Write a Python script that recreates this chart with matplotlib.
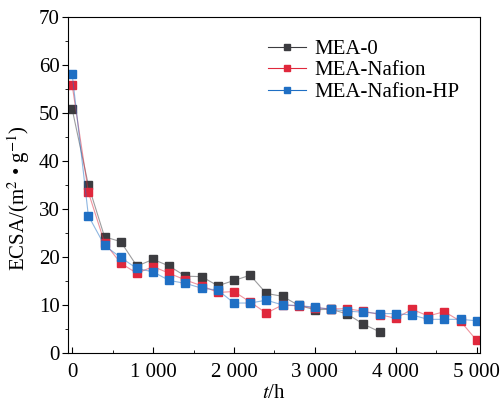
import numpy as np
import matplotlib
matplotlib.use('Agg')
import matplotlib.pyplot as plt
from matplotlib.ticker import MultipleLocator, FuncFormatter

plt.rcParams['font.family'] = ['Liberation Serif', 'DejaVu Serif']
plt.rcParams['mathtext.fontset'] = 'stix'

# time (h)
t_mea0 = [0, 200, 400, 600, 800, 1000, 1200, 1400, 1600, 1800, 2000, 2200,
          2400, 2600, 2800, 3000, 3200, 3400, 3600, 3800]
ecsa_mea0 = [50.8, 35.0, 24.2, 23.2, 18.1, 19.5, 18.1, 16.0, 15.9, 14.0, 15.1, 16.2,
             12.4, 11.8, 9.9, 9.0, 9.1, 8.1, 6.0, 4.4]

t_full = [0, 200, 400, 600, 800, 1000, 1200, 1400, 1600, 1800, 2000, 2200, 2400,
          2600, 2800, 3000, 3200, 3400, 3600, 3800, 4000, 4200, 4400, 4600, 4800, 5000]
ecsa_nafion = [55.8, 33.5, 23.0, 18.7, 16.6, 18.0, 16.6, 15.2, 14.0, 12.6, 12.8, 10.6, 8.3,
               10.0, 9.8, 9.4, 9.2, 9.2, 8.7, 8.0, 7.2, 9.1, 7.7, 8.6, 6.6, 2.6]
ecsa_hp = [58.1, 28.6, 22.4, 19.9, 17.6, 16.9, 15.1, 14.5, 13.5, 13.1, 10.4, 10.4, 11.0,
           10.0, 9.9, 9.5, 9.1, 8.7, 8.5, 8.2, 8.2, 7.9, 7.0, 7.0, 7.0, 6.7]

fig = plt.figure(figsize=(5.01, 4.08), dpi=100)
ax = fig.add_axes([0.136, 0.135, 0.822, 0.823])

series = [
    (t_mea0, ecsa_mea0, '#3c3c40', 'MEA-0'),
    (t_full, ecsa_nafion, '#e0283c', 'MEA-Nafion'),
    (t_full, ecsa_hp, '#1f6fc4', 'MEA-Nafion-HP'),
]
for x, y, c, lab in series:
    ax.plot(x, y, color=c, lw=0.8, alpha=0.5)
    ax.plot(x, y, ls='none', marker='s', ms=6, color=c)
    ax.plot([], [], color=c, lw=0.8, marker='s', ms=5, label=lab)

ax.set_xlim(-50, 5040)
ax.set_ylim(0, 70)
ax.xaxis.set_major_locator(MultipleLocator(1000))
ax.xaxis.set_minor_locator(MultipleLocator(500))
ax.yaxis.set_major_locator(MultipleLocator(10))
ax.yaxis.set_minor_locator(MultipleLocator(5))
ax.xaxis.set_major_formatter(FuncFormatter(lambda v, p: f'{int(v):,}'.replace(',', ' ')))
ax.tick_params(axis='x', direction='in', length=4, labelsize=15, pad=7)
ax.tick_params(axis='x', which='minor', direction='in', length=2.5)
ax.tick_params(axis='y', direction='out', length=4, labelsize=15, pad=2)
ax.tick_params(axis='y', which='minor', direction='out', length=2.5)

ax.set_xlabel('$t$/h', fontsize=15, labelpad=2)
ax.set_ylabel('ECSA/(m$^2$ • g$^{-1}$)', fontsize=15)
ax.yaxis.set_label_coords(-0.088, 0.46)

leg = ax.legend(loc='upper right', bbox_to_anchor=(0.995, 0.99), frameon=False,
                fontsize=15, handlelength=1.8, handletextpad=0.4, labelspacing=0.1)
for h in leg.legend_handles:
    h.set_alpha(1)

fig.savefig('out.png', dpi=100)
